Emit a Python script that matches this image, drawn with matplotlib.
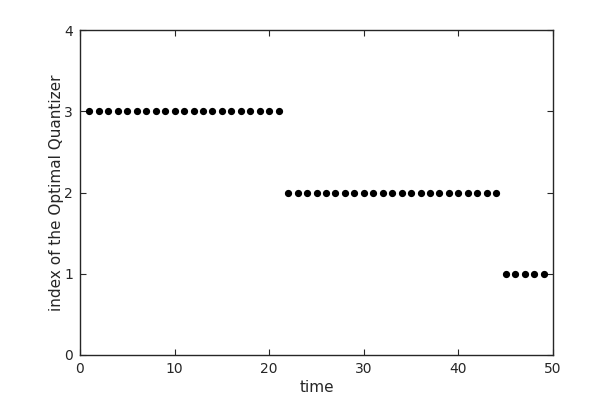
import matplotlib
matplotlib.use("Agg")
import matplotlib.pyplot as plt
import numpy as np

time = list(range(1, 50))
index = [3]*21 + [2]*23 + [1]*5

fig = plt.figure(figsize=(6.13, 4.0), dpi=100)
ax = fig.add_axes([80/613, 45/400, 473/613, 325/400])
ax.plot(time, index, linestyle='none', marker='o', markersize=4.2, color='black')
ax.set_xlim(0, 50)
ax.set_ylim(0, 4)
ax.set_xticks([0, 10, 20, 30, 40, 50])
ax.set_yticks([0, 1, 2, 3, 4])
ax.tick_params(direction='in', top=True, right=True, length=4, width=0.8, labelsize=10, colors='#262626', pad=5)
for s in ax.spines.values():
    s.set_linewidth(1.0)
    s.set_color('#262626')
ax.set_xlabel('time', fontsize=11, color='#262626', labelpad=3)
ax.set_ylabel('index of the Optimal Quantizer', fontsize=11, color='#262626', labelpad=0)
fig.savefig('out.png', dpi=100)
